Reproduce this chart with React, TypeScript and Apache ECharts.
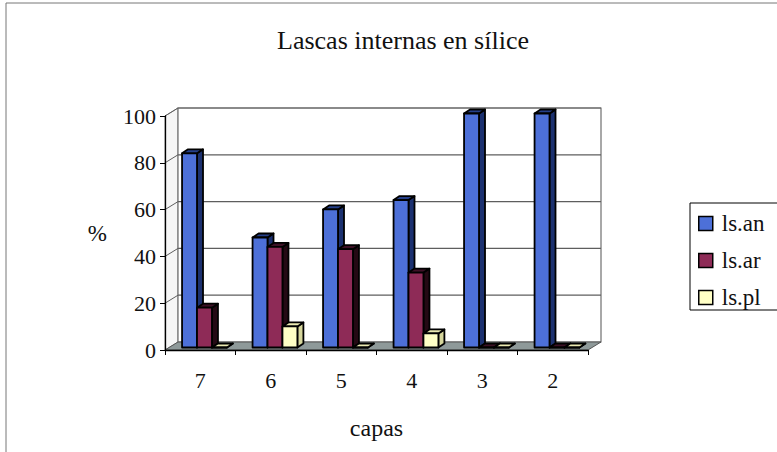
import React, { useEffect, useRef } from "react";
import * as echarts from "echarts";

// Layers (capas) and percentage of each internal flake type in silex
const capas = ["7", "6", "5", "4", "3", "2"];
const lsAn = [83, 47, 59, 63, 100, 100];
const lsAr = [17, 43, 42, 32, 0, 0];
const lsPl = [0, 9, 0, 6, 0, 0];
const yTicks = [0, 20, 40, 60, 80, 100];

const FONT = "Liberation Serif";

// depth offset of the back wall and of the bars' own depth
const WALL_DX = 13;
const WALL_DY = -8;
const BAR_DX = 6;
const BAR_DY = -4;

const seriesDefs = [
  { name: "ls.an", data: lsAn, face: "#4d70d8", side: "#1c3170", top: "#26408a" },
  { name: "ls.ar", data: lsAr, face: "#8e2b57", side: "#240914", top: "#3d1126" },
  { name: "ls.pl", data: lsPl, face: "#ffffc6", side: "#d6d69c", top: "#ebeab2" },
];

function barRenderer(si: number, face: string, side: string, top: string) {
  return (_params: any, api: any) => {
    const idx = api.value(0);
    const v = api.value(1);
    const base = api.coord([idx, 0]);
    const peak = api.coord([idx, v]);
    const band = api.size([1, 0])[0];
    const w = band * 0.212;
    const x0 = base[0] - band * 0.258 + si * w;
    const yb = base[1] - 2.5;
    const yt = peak[1] - 2.5;
    const stroke = { stroke: "#000", lineWidth: 1.8, lineJoin: "round" };
    return {
      type: "group",
      children: [
        {
          type: "polygon",
          shape: { points: [[x0 + w, yb], [x0 + w + BAR_DX, yb + BAR_DY], [x0 + w + BAR_DX, yt + BAR_DY], [x0 + w, yt]] },
          style: { fill: side, ...stroke },
        },
        {
          type: "polygon",
          shape: { points: [[x0, yt], [x0 + BAR_DX, yt + BAR_DY], [x0 + w + BAR_DX, yt + BAR_DY], [x0 + w, yt]] },
          style: { fill: top, ...stroke },
        },
        {
          type: "rect",
          shape: { x: x0, y: yt, width: w, height: Math.max(yb - yt, 0) },
          style: { fill: face, ...stroke },
        },
      ],
    };
  };
}

function wallsRenderer(params: any, api: any) {
  const cs = params.coordSys;
  const x = cs.x;
  const y = cs.y;
  const w = cs.width;
  const h = cs.height;
  const children: any[] = [
    {
      type: "polygon",
      shape: { points: [[x, y], [x + WALL_DX, y + WALL_DY], [x + WALL_DX, y + h + WALL_DY], [x, y + h]] },
      style: { fill: "#f6f6f6", stroke: "#888", lineWidth: 1 },
    },
    {
      type: "rect",
      shape: { x: x + WALL_DX, y: y + WALL_DY, width: w, height: h },
      style: { fill: "#ffffff", stroke: "#6f6f6f", lineWidth: 1.2 },
    },
    {
      type: "polygon",
      shape: { points: [[x, y + h], [x + WALL_DX, y + h + WALL_DY], [x + w + WALL_DX, y + h + WALL_DY], [x + w, y + h]] },
      style: { fill: "#8e9999", stroke: "#555", lineWidth: 1 },
    },
  ];
  yTicks.forEach((t) => {
    if (t === 0) return;
    const yy = api.coord([0, t])[1];
    children.push({
      type: "line",
      shape: { x1: x + WALL_DX, y1: yy + WALL_DY, x2: x + w + WALL_DX, y2: yy + WALL_DY },
      style: { stroke: "#5e5e5e", lineWidth: 1.2 },
    });
    children.push({
      type: "line",
      shape: { x1: x, y1: yy, x2: x + WALL_DX, y2: yy + WALL_DY },
      style: { stroke: "#5e5e5e", lineWidth: 1 },
    });
  });
  return { type: "group", children };
}

export default function App() {
  const ref = useRef<HTMLDivElement>(null);

  useEffect(() => {
    if (!ref.current) return;
    const chart = echarts.init(ref.current, null, { renderer: "svg" });
    chart.setOption({
      animation: false,
      backgroundColor: "#ffffff",
      textStyle: { fontFamily: FONT },
      title: {
        text: "Lascas internas en sílice",
        left: 398,
        textAlign: "center",
        top: 22,
        textStyle: { fontFamily: FONT, fontSize: 26, fontWeight: "normal", color: "#111" },
      },
      grid: { left: 165, top: 116, width: 423, height: 234 },
      xAxis: {
        type: "category",
        data: capas,
        name: "capas",
        nameLocation: "middle",
        nameGap: 66,
        nameTextStyle: { fontFamily: FONT, fontSize: 24, color: "#111" },
        axisLine: { lineStyle: { color: "#000", width: 1.3 } },
        axisTick: { show: true, length: 5, lineStyle: { color: "#000" } },
        axisLabel: { fontFamily: FONT, fontSize: 22, color: "#111", margin: 19 },
        splitLine: { show: false },
      },
      yAxis: {
        type: "value",
        min: 0,
        max: 100,
        interval: 20,
        name: "%",
        nameLocation: "middle",
        nameRotate: 0,
        nameGap: 58,
        nameTextStyle: { fontFamily: FONT, fontSize: 23, color: "#111" },
        axisLine: { show: true, lineStyle: { color: "#000", width: 1.3 } },
        axisTick: { show: true, length: 5, lineStyle: { color: "#000" } },
        axisLabel: { fontFamily: FONT, fontSize: 22, color: "#111", margin: 9 },
        splitLine: { show: false },
      },
      legend: {
        orient: "vertical",
        left: 698,
        top: 212,
        padding: 0,
        itemGap: 14,
        itemWidth: 14,
        itemHeight: 14,
        icon: "rect",
        textStyle: { fontFamily: FONT, fontSize: 23, color: "#111", lineHeight: 22, padding: [0, 0, 0, 4] },
        data: seriesDefs.map((s) => ({
          name: s.name,
          itemStyle: { color: s.face, borderColor: "#000", borderWidth: 1.5 },
        })),
      },
      graphic: [
        {
          type: "rect",
          shape: { x: 6, y: 3, width: 800, height: 500 },
          style: { fill: "none", stroke: "#777", lineWidth: 1 },
          silent: true,
        },
        {
          type: "rect",
          shape: { x: 690, y: 203, width: 100, height: 107 },
          style: { fill: "none", stroke: "#000", lineWidth: 1 },
          silent: true,
        },
      ],
      series: [
        {
          type: "custom",
          name: "walls",
          silent: true,
          z: 0,
          renderItem: wallsRenderer,
          data: [[0, 0]],
        },
        ...seriesDefs.map((s, i) => ({
          type: "custom",
          name: s.name,
          z: 2,
          itemStyle: { color: s.face },
          renderItem: barRenderer(i, s.face, s.side, s.top),
          data: s.data.map((v, k) => [k, v]),
        })),
      ],
    });
    return () => chart.dispose();
  }, []);

  return (
    <div
      ref={ref}
      style={{ position: "fixed", left: 0, top: 0, width: 777, height: 452, background: "#fff" }}
    />
  );
}
